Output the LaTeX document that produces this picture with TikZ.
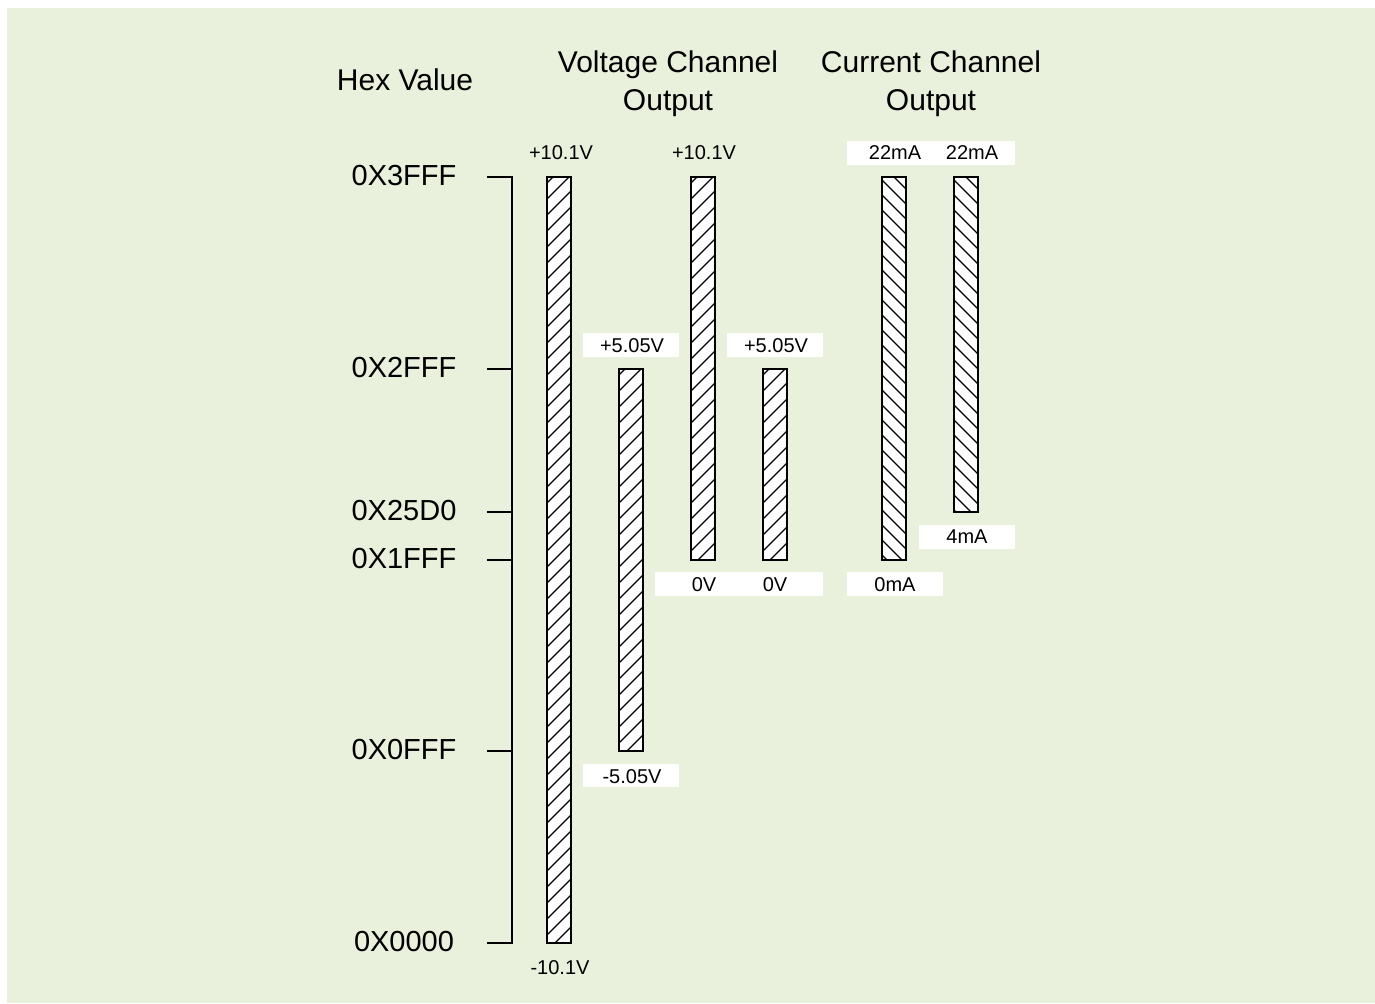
\documentclass[tikz,border=0pt]{standalone}
\usepackage{fontspec}
\setmainfont{Liberation Sans}
\definecolor{bggreen}{RGB}{233,240,220}
\tikzset{
  big/.style={font=\fontsize{15}{18}\selectfont, inner sep=0pt, anchor=base},
  hexlab/.style={font=\fontsize{14.5}{17}\selectfont, inner sep=0pt, anchor=base},
  small/.style={font=\fontsize{10}{12}\selectfont, inner sep=0pt, anchor=base},
  axisline/.style={line width=1pt, draw=black},
  barframe/.style={line width=1pt, draw=black},
  hatchline/.style={line width=0.6pt, draw=black},
  labelbox/.style={fill=white, draw=none},
}
% #1,#2 top-left, #3,#4 bottom-right, #5 direction (1 = /, -1 = \), #6 spacing
\newcommand{\myhatch}[6]{%
  \fill[white] (#1,#2) rectangle (#3,#4);
  \begin{scope}
    \clip (#1,#2) rectangle (#3,#4);
    \foreach \n in {0,...,66}{
      \draw[hatchline] ({#1},{#2+\n*#6-42}) -- ++(40,{-40*#5});
    }
  \end{scope}
  \draw[barframe] (#1,#2) rectangle (#3,#4);
}
\begin{document}
\begin{tikzpicture}[x=0.5pt,y=-0.5pt]
  \useasboundingbox (0,0) rectangle (1375,1003);
  \fill[white] (0,0) rectangle (1375,1003);
  \fill[bggreen] (7,8) rectangle (1375,1003);

  % headings
  \node[big] (hexhead) at (405,90) {Hex Value};
  \node[big] (volthead1) at (668,72) {Voltage Channel};
  \node[big] (volthead2) at (668,110) {Output};
  \node[big] (curhead1) at (931,72) {Current Channel};
  \node[big] (curhead2) at (931,110) {Output};

  % hex labels
  \node[hexlab] (h3fff) at (404,185) {0X3FFF};
  \node[hexlab] (h2fff) at (404,377) {0X2FFF};
  \node[hexlab] (h25d0) at (404,520) {0X25D0};
  \node[hexlab] (h1fff) at (404,568) {0X1FFF};
  \node[hexlab] (h0fff) at (404,759) {0X0FFF};
  \node[hexlab] (h0000) at (404,951) {0X0000};

  % axis
  \draw[axisline] (487,177) -- (512,177) -- (512,943) -- (487,943);
  \foreach \yy in {369,512,560,751}{
    \draw[axisline] (487,\yy) -- (512,\yy);
  }

  % bars
  \myhatch{547}{177}{571}{943}{1}{16}
  \myhatch{619}{369}{643}{751}{1}{16}
  \myhatch{691}{177}{715}{560}{1}{16}
  \myhatch{763}{369}{787}{560}{1}{16}
  \myhatch{882}{177}{906}{560}{-1}{15}
  \myhatch{954}{177}{978}{512}{-1}{15}

  % white label boxes
  \fill[labelbox] (583,333) rectangle (679,357);
  \fill[labelbox] (727,333) rectangle (823,357);
  \fill[labelbox] (583,764) rectangle (679,787);
  \fill[labelbox] (655,572) rectangle (823,596);
  \fill[labelbox] (847,572) rectangle (943,596);
  \fill[labelbox] (919,525) rectangle (1015,549);
  \fill[labelbox] (847,141) rectangle (1015,165);

  % small labels
  \node[small] (v1top) at (561,159) {+10.1V};
  \node[small] (v1bot) at (560,974) {-10.1V};
  \node[small] (v2top) at (632,352) {+5.05V};
  \node[small] (v2bot) at (632,783) {-5.05V};
  \node[small] (v3top) at (704,159) {+10.1V};
  \node[small] (v3bot) at (704,591) {0V};
  \node[small] (v4top) at (776,352) {+5.05V};
  \node[small] (v4bot) at (775,591) {0V};
  \node[small] (c1top) at (895,159) {22mA};
  \node[small] (c1bot) at (895,591) {0mA};
  \node[small] (c2top) at (972,159) {22mA};
  \node[small] (c2bot) at (967,543) {4mA};
\end{tikzpicture}
\end{document}
